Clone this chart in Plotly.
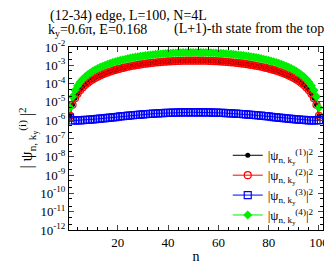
import plotly.graph_objects as go

n = list(range(1, 101))

# |psi^(1)|^2 (black, filled circles)
psi1 = [1.74e-6, 6.96e-6, 1.56e-5, 2.77e-5, 4.32e-5, 6.20e-5, 8.40e-5, 1.09e-4, 1.37e-4, 1.69e-4,
        2.03e-4, 2.39e-4, 2.79e-4, 3.20e-4, 3.64e-4, 4.10e-4, 4.58e-4, 5.08e-4, 5.59e-4, 6.12e-4,
        6.65e-4, 7.20e-4, 7.75e-4, 8.31e-4, 8.87e-4, 9.43e-4, 9.99e-4, 1.05e-3, 1.11e-3, 1.16e-3,
        1.22e-3, 1.27e-3, 1.32e-3, 1.37e-3, 1.42e-3, 1.46e-3, 1.50e-3, 1.55e-3, 1.58e-3, 1.62e-3,
        1.65e-3, 1.68e-3, 1.71e-3, 1.73e-3, 1.75e-3, 1.77e-3, 1.78e-3, 1.79e-3, 1.80e-3, 1.80e-3,
        1.80e-3, 1.80e-3, 1.79e-3, 1.78e-3, 1.77e-3, 1.75e-3, 1.73e-3, 1.71e-3, 1.68e-3, 1.65e-3,
        1.62e-3, 1.58e-3, 1.55e-3, 1.50e-3, 1.46e-3, 1.42e-3, 1.37e-3, 1.32e-3, 1.27e-3, 1.22e-3,
        1.16e-3, 1.11e-3, 1.05e-3, 9.99e-4, 9.43e-4, 8.87e-4, 8.31e-4, 7.75e-4, 7.20e-4, 6.65e-4,
        6.12e-4, 5.59e-4, 5.08e-4, 4.58e-4, 4.10e-4, 3.64e-4, 3.20e-4, 2.79e-4, 2.39e-4, 2.03e-4,
        1.69e-4, 1.37e-4, 1.09e-4, 8.40e-5, 6.20e-5, 4.32e-5, 2.77e-5, 1.56e-5, 6.96e-6, 1.74e-6]

# |psi^(2)|^2 (red, open circles)
psi2 = [1.74e-6, 6.96e-6, 1.56e-5, 2.77e-5, 4.32e-5, 6.20e-5, 8.40e-5, 1.09e-4, 1.37e-4, 1.69e-4,
        2.03e-4, 2.39e-4, 2.79e-4, 3.20e-4, 3.64e-4, 4.10e-4, 4.58e-4, 5.08e-4, 5.59e-4, 6.12e-4,
        6.65e-4, 7.20e-4, 7.75e-4, 8.31e-4, 8.87e-4, 9.43e-4, 9.99e-4, 1.05e-3, 1.11e-3, 1.16e-3,
        1.22e-3, 1.27e-3, 1.32e-3, 1.37e-3, 1.42e-3, 1.46e-3, 1.50e-3, 1.55e-3, 1.58e-3, 1.62e-3,
        1.65e-3, 1.68e-3, 1.71e-3, 1.73e-3, 1.75e-3, 1.77e-3, 1.78e-3, 1.79e-3, 1.80e-3, 1.80e-3,
        1.80e-3, 1.80e-3, 1.79e-3, 1.78e-3, 1.77e-3, 1.75e-3, 1.73e-3, 1.71e-3, 1.68e-3, 1.65e-3,
        1.62e-3, 1.58e-3, 1.55e-3, 1.50e-3, 1.46e-3, 1.42e-3, 1.37e-3, 1.32e-3, 1.27e-3, 1.22e-3,
        1.16e-3, 1.11e-3, 1.05e-3, 9.99e-4, 9.43e-4, 8.87e-4, 8.31e-4, 7.75e-4, 7.20e-4, 6.65e-4,
        6.12e-4, 5.59e-4, 5.08e-4, 4.58e-4, 4.10e-4, 3.64e-4, 3.20e-4, 2.79e-4, 2.39e-4, 2.03e-4,
        1.69e-4, 1.37e-4, 1.09e-4, 8.40e-5, 6.20e-5, 4.32e-5, 2.77e-5, 1.56e-5, 6.96e-6, 1.74e-6]

# |psi^(3)|^2 (blue, open squares)
psi3 = [1.40e-6, 0.96e-6, 0.97e-6, 0.98e-6, 0.99e-6, 1.01e-6, 1.03e-6, 1.06e-6, 1.08e-6, 1.11e-6,
        1.15e-6, 1.18e-6, 1.22e-6, 1.26e-6, 1.30e-6, 1.35e-6, 1.40e-6, 1.44e-6, 1.49e-6, 1.54e-6,
        1.60e-6, 1.65e-6, 1.70e-6, 1.76e-6, 1.81e-6, 1.87e-6, 1.92e-6, 1.98e-6, 2.03e-6, 2.08e-6,
        2.13e-6, 2.18e-6, 2.23e-6, 2.28e-6, 2.33e-6, 2.37e-6, 2.41e-6, 2.45e-6, 2.49e-6, 2.52e-6,
        2.56e-6, 2.58e-6, 2.61e-6, 2.63e-6, 2.65e-6, 2.67e-6, 2.68e-6, 2.69e-6, 2.70e-6, 2.70e-6,
        2.70e-6, 2.70e-6, 2.69e-6, 2.68e-6, 2.67e-6, 2.65e-6, 2.63e-6, 2.61e-6, 2.58e-6, 2.56e-6,
        2.52e-6, 2.49e-6, 2.45e-6, 2.41e-6, 2.37e-6, 2.33e-6, 2.28e-6, 2.23e-6, 2.18e-6, 2.13e-6,
        2.08e-6, 2.03e-6, 1.98e-6, 1.92e-6, 1.87e-6, 1.81e-6, 1.76e-6, 1.70e-6, 1.65e-6, 1.60e-6,
        1.54e-6, 1.49e-6, 1.44e-6, 1.40e-6, 1.35e-6, 1.30e-6, 1.26e-6, 1.22e-6, 1.18e-6, 1.15e-6,
        1.11e-6, 1.08e-6, 1.06e-6, 1.03e-6, 1.01e-6, 0.99e-6, 0.98e-6, 0.97e-6, 0.96e-6, 1.00e-6]

# |psi^(4)|^2 (green, filled diamonds)
psi4 = [4.80e-6, 1.93e-5, 4.34e-5, 7.70e-5, 1.20e-4, 1.72e-4, 2.33e-4, 3.03e-4, 3.82e-4, 4.68e-4,
        5.63e-4, 6.65e-4, 7.74e-4, 8.90e-4, 1.01e-3, 1.14e-3, 1.27e-3, 1.41e-3, 1.55e-3, 1.70e-3,
        1.85e-3, 2.00e-3, 2.15e-3, 2.31e-3, 2.46e-3, 2.62e-3, 2.78e-3, 2.93e-3, 3.08e-3, 3.23e-3,
        3.38e-3, 3.53e-3, 3.67e-3, 3.80e-3, 3.93e-3, 4.06e-3, 4.18e-3, 4.29e-3, 4.40e-3, 4.50e-3,
        4.59e-3, 4.67e-3, 4.74e-3, 4.81e-3, 4.87e-3, 4.91e-3, 4.95e-3, 4.98e-3, 5.00e-3, 5.00e-3,
        5.00e-3, 5.00e-3, 4.98e-3, 4.95e-3, 4.91e-3, 4.87e-3, 4.81e-3, 4.74e-3, 4.67e-3, 4.59e-3,
        4.50e-3, 4.40e-3, 4.29e-3, 4.18e-3, 4.06e-3, 3.93e-3, 3.80e-3, 3.67e-3, 3.53e-3, 3.38e-3,
        3.23e-3, 3.08e-3, 2.93e-3, 2.78e-3, 2.62e-3, 2.46e-3, 2.31e-3, 2.15e-3, 2.00e-3, 1.85e-3,
        1.70e-3, 1.55e-3, 1.41e-3, 1.27e-3, 1.14e-3, 1.01e-3, 8.90e-4, 7.74e-4, 6.65e-4, 5.63e-4,
        4.68e-4, 3.82e-4, 3.03e-4, 2.33e-4, 1.72e-4, 1.20e-4, 7.70e-5, 4.34e-5, 1.93e-5, 4.80e-6]

series_names = [
    "|ψ<sub>n, k<sub>y</sub></sub><sup>(1)</sup>|<sup>2</sup>",
    "|ψ<sub>n, k<sub>y</sub></sub><sup>(2)</sup>|<sup>2</sup>",
    "|ψ<sub>n, k<sub>y</sub></sub><sup>(3)</sup>|<sup>2</sup>",
    "|ψ<sub>n, k<sub>y</sub></sub><sup>(4)</sup>|<sup>2</sup>",
]

y_tickvals = [1e-12, 1e-11, 1e-10, 1e-9, 1e-8, 1e-7, 1e-6, 1e-5, 1e-4, 1e-3, 1e-2]
y_ticktext = ["10<sup>-12</sup>", "10<sup>-11</sup>", "10<sup>-10</sup>", "10<sup>-9</sup>",
              "10<sup>-8</sup>", "10<sup>-7</sup>", "10<sup>-6</sup>", "10<sup>-5</sup>",
              "10<sup>-4</sup>", "10<sup>-3</sup>", "10<sup>-2</sup>"]
x_tickvals = [20, 40, 60, 80, 100]

FONT = "Liberation Serif"

fig = go.Figure()
fig.add_trace(go.Scatter(x=n, y=psi1, mode="lines+markers", name=series_names[0],
                         line=dict(color="black", width=1),
                         marker=dict(symbol="circle", size=5, color="black")))
fig.add_trace(go.Scatter(x=n, y=psi2, mode="lines+markers", name=series_names[1],
                         line=dict(color="red", width=1),
                         marker=dict(symbol="circle-open", size=7, color="red", line=dict(width=1.2))))
fig.add_trace(go.Scatter(x=n, y=psi3, mode="lines+markers", name=series_names[2],
                         line=dict(color="blue", width=1),
                         marker=dict(symbol="square-open", size=7, color="blue", line=dict(width=1.2))))
fig.add_trace(go.Scatter(x=n, y=psi4, mode="lines+markers", name=series_names[3],
                         line=dict(color="#00ee00", width=1),
                         marker=dict(symbol="diamond", size=7, color="#00ee00")))

fig.update_layout(
    width=332, height=264,
    margin=dict(l=61, r=11, t=39, b=35),
    paper_bgcolor="white", plot_bgcolor="white",
    font=dict(family=FONT, size=13, color="black"),
    showlegend=True,
    legend=dict(x=0.625, y=0.49, xanchor="left", yanchor="top",
                bgcolor="rgba(0,0,0,0)", font=dict(family=FONT, size=13),
                itemwidth=30, tracegroupgap=0),
    xaxis=dict(range=[0.6, 101.6], tickvals=x_tickvals, ticks="inside", ticklen=5,
               showline=True, linecolor="black", linewidth=1, mirror="allticks",
               showgrid=False, zeroline=False, tickfont=dict(family=FONT, size=13),
               minor=dict(dtick=4, tick0=0, ticks="inside", ticklen=3, tickcolor="black"),
               title=dict(text="n", font=dict(family=FONT, size=14), standoff=2)),
    yaxis=dict(type="log", range=[-12, -2], tickvals=y_tickvals, ticktext=y_ticktext,
               ticks="inside", ticklen=5, showline=True, linecolor="black", linewidth=1,
               mirror="allticks", showgrid=False, zeroline=False,
               tickfont=dict(family=FONT, size=13),
               minor=dict(ticks="inside", ticklen=3, tickcolor="black")),
)

fig.add_annotation(text="(12-34) edge, L=100, N=4L", xref="paper", yref="paper",
                   x=0.235, y=1.0, yshift=31, xanchor="center", yanchor="middle",
                   showarrow=False, font=dict(family=FONT, size=14))
fig.add_annotation(text="k<sub>y</sub>=0.6π, E=0.168", xref="paper", yref="paper",
                   x=-0.092, y=1.0, yshift=17, xanchor="left", yanchor="middle",
                   showarrow=False, font=dict(family=FONT, size=14))
fig.add_annotation(text="(L+1)-th state from the top", xref="paper", yref="paper",
                   x=0.405, y=1.0, yshift=18, xanchor="left", yanchor="middle",
                   showarrow=False, font=dict(family=FONT, size=14))
fig.add_annotation(text="| ψ<sub>n, k<sub>y</sub></sub><sup>(i)</sup> |<sup>2</sup>",
                   xref="paper", yref="paper", x=-0.165, y=0.5, textangle=-90,
                   xanchor="center", yanchor="middle", showarrow=False,
                   font=dict(family=FONT, size=16))

fig.write_html("out.html")
